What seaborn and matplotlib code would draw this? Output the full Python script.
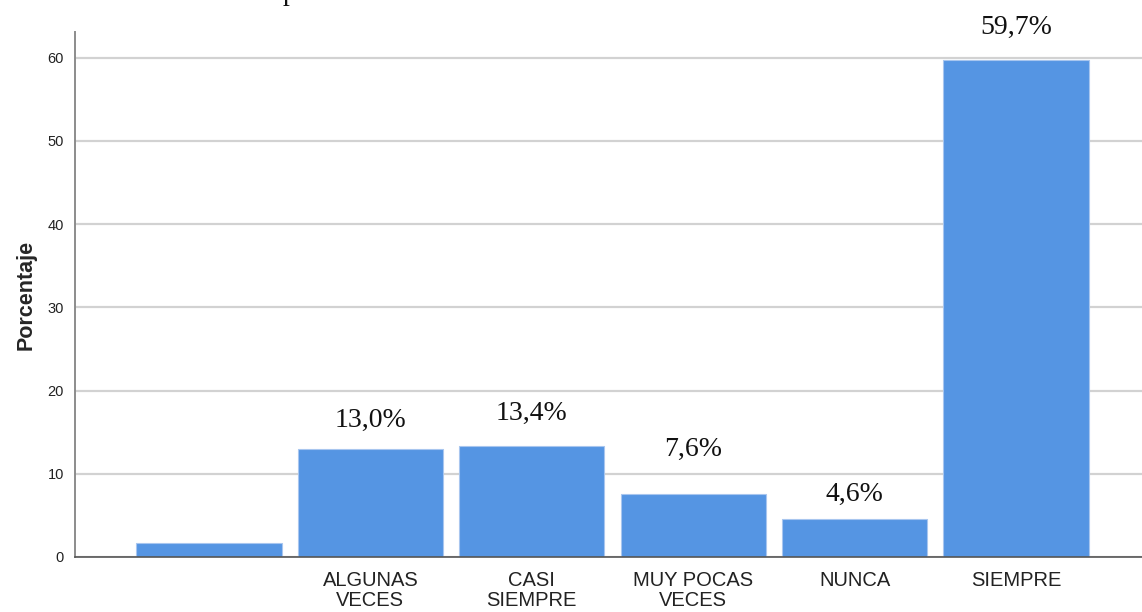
import matplotlib
matplotlib.use("Agg")
import matplotlib.pyplot as plt
import seaborn as sns
import pandas as pd

# --- Data ---
categories = ["", "ALGUNAS\nVECES", "CASI\nSIEMPRE", "MUY POCAS\nVECES", "NUNCA", "SIEMPRE"]
percentages = [1.7, 13.0, 13.4, 7.6, 4.6, 59.7]
bar_labels = ["", "13,0%", "13,4%", "7,6%", "4,6%", "59,7%"]
y_ticks = [0, 10, 20, 30, 40, 50, 60]

# SPSS-like colours
BAR_BLUE = "#5595e3"
BAR_EDGE = "#a8c6ef"
GRID_GREY = "#d2d2d2"
AXIS_GREY = "#8c8c8c"

sns.set_style("white")
plt.rcParams["font.family"] = ["Liberation Sans", "DejaVu Sans"]

fig = plt.figure(figsize=(11.42, 6.12), dpi=100)
ax = fig.add_axes([75 / 1142, 55 / 612, 1 - 75 / 1142, (557 - 32) / 612])

df = pd.DataFrame({"Categoria": categories, "Porcentaje": percentages})
sns.barplot(data=df, x="Categoria", y="Porcentaje", order=categories,
            color=BAR_BLUE, saturation=1, width=0.9,
            edgecolor=BAR_EDGE, linewidth=0.8, ax=ax, zorder=2)

ax.set_xlim(-0.83, 5.78)
ax.set_ylim(0, 63.1)
ax.set_yticks(y_ticks)
ax.yaxis.grid(True, color=GRID_GREY, linewidth=1.6, zorder=0)
ax.set_axisbelow(True)

for side in ["top", "right"]:
    ax.spines[side].set_visible(False)
ax.spines["left"].set_color(AXIS_GREY)
ax.spines["left"].set_linewidth(1.4)
ax.spines["bottom"].set_color("#555555")
ax.spines["bottom"].set_linewidth(1.2)

ax.tick_params(axis="y", length=0, pad=8, labelsize=10.5, labelcolor="#222222")
ax.tick_params(axis="x", length=0, pad=10, labelsize=14.5, labelcolor="#222222")
for lbl in ax.get_xticklabels():
    lbl.set_linespacing(1.05)

ax.set_xlabel("")
ax.set_ylabel("Porcentaje", fontsize=15.5, fontweight="bold", labelpad=8)

# value labels above bars (white box hides the grid, as in the original)
label_offsets = [0, 28, 32, 44, 24, 33]
for i, (val, txt) in enumerate(zip(percentages, bar_labels)):
    if not txt:
        continue
    ax.annotate(txt, xy=(i, val), xytext=(0, label_offsets[i]),
                textcoords="offset pixels", ha="center", va="center",
                fontsize=20, family=["Liberation Serif", "DejaVu Serif"],
                color="#111111",
                bbox=dict(facecolor="white", edgecolor="none", pad=4))

# remnant of the cropped title above the chart
fig.text(283 / 1142, 1.0, "p", ha="left", va="baseline", fontsize=20,
         family=["Liberation Serif", "DejaVu Serif"], color="#111111")

fig.savefig("out.png", dpi=100)
